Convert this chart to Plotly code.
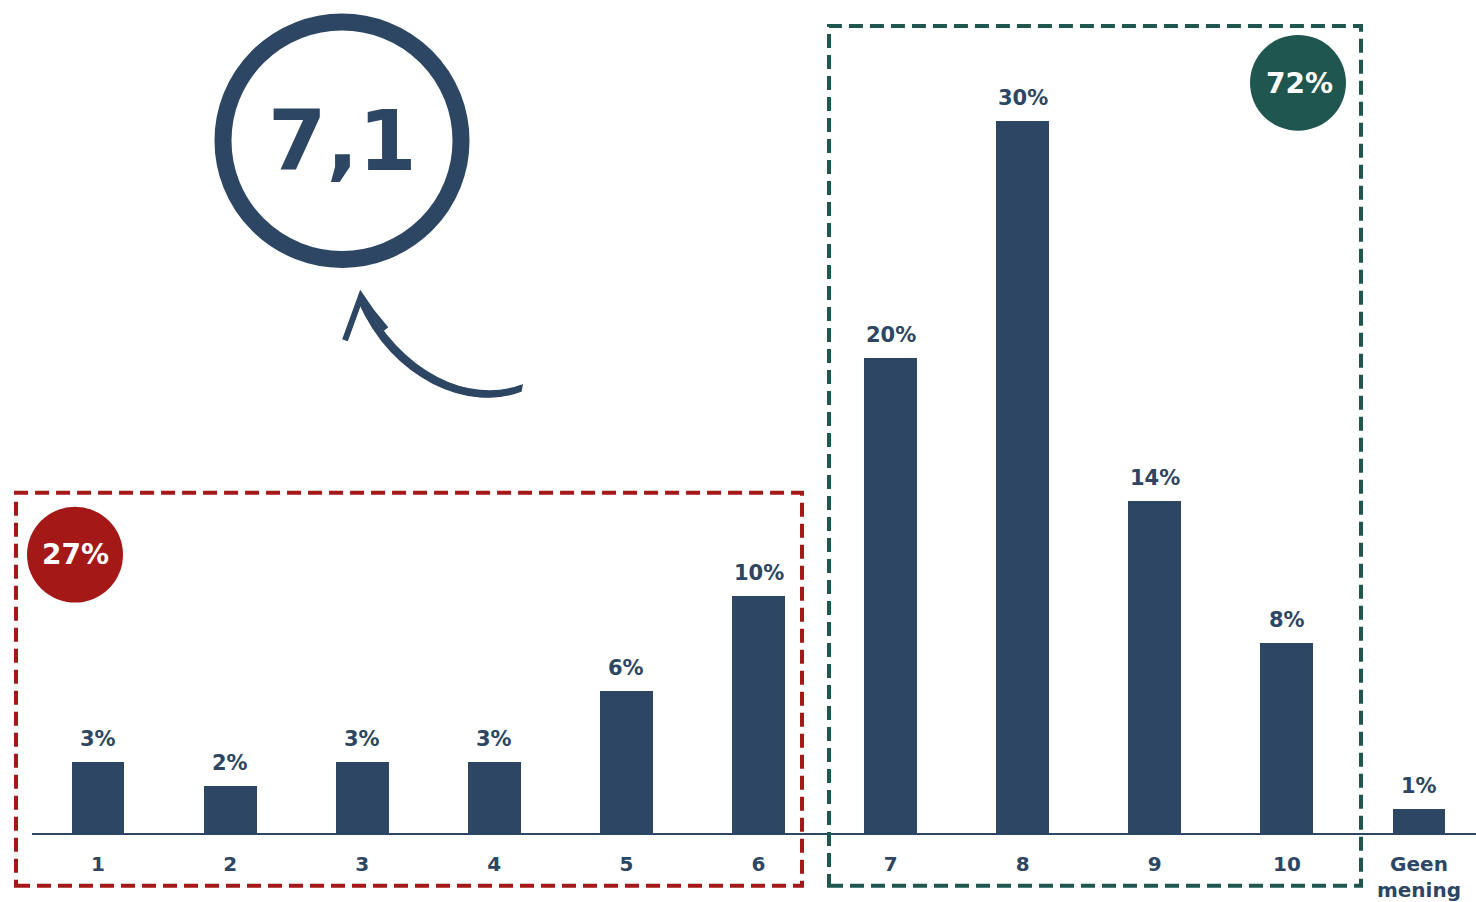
import plotly.graph_objects as go

# ---- data ----
categories = ["1", "2", "3", "4", "5", "6", "7", "8", "9", "10", "Geen<br>mening"]
values = [3, 2, 3, 3, 6, 10, 20, 30, 14, 8, 1]
low_share = "27%"
high_share = "72%"
average_score = "7,1"

NAVY = "#2C4663"
RED = "#A51818"
GREEN = "#1F5750"
FONT = "Verdana, DejaVu Sans, sans-serif"

W, H = 1476, 902
ML, MR, MT, MB = 32, 0, 0, 67
PW, PH = W - ML - MR, H - MT - MB
PX_PER_CAT = 132.1
PX_PER_PCT = 23.8
FIRST_CENTER = 98


def xp(px):
    return (px - ML) / PW


def yp(py):
    return (H - MB - py) / PH


xs = list(range(len(categories)))

fig = go.Figure()
fig.add_trace(go.Bar(
    x=xs, y=values, width=0.40,
    marker=dict(color=NAVY, line=dict(width=0)),
    hoverinfo="skip",
))

x_lo = (ML - FIRST_CENTER) / PX_PER_CAT
x_hi = (W - MR - FIRST_CENTER) / PX_PER_CAT
y_hi = PH / PX_PER_PCT

annotations = []
for x, v in zip(xs, values):
    annotations.append(dict(
        x=x, y=v, xref="x", yref="y", text=f"{v}%", showarrow=False,
        yanchor="bottom", yshift=9,
        font=dict(family=FONT, size=21, color=NAVY, weight="bold"),
    ))

# big score
annotations.append(dict(
    x=xp(342), y=yp(141), xref="paper", yref="paper", text=average_score,
    showarrow=False, xanchor="center", yanchor="middle",
    font=dict(family=FONT, size=84, color=NAVY, weight="bold"),
))
annotations.append(dict(
    x=xp(75), y=yp(556), xref="paper", yref="paper", text=low_share,
    showarrow=False, xanchor="center", yanchor="middle",
    font=dict(family=FONT, size=28, color="white", weight="bold"),
))
annotations.append(dict(
    x=xp(1299), y=yp(84), xref="paper", yref="paper", text=high_share,
    showarrow=False, xanchor="center", yanchor="middle",
    font=dict(family=FONT, size=28, color="white", weight="bold"),
))


def circle(cx, cy, r, **kw):
    return dict(type="circle", xref="paper", yref="paper",
                x0=xp(cx - r), x1=xp(cx + r), y0=yp(cy + r), y1=yp(cy - r), **kw)


def rect(x0, y0, x1, y1, color):
    return dict(type="rect", xref="paper", yref="paper",
                x0=xp(x0), x1=xp(x1), y0=yp(y1), y1=yp(y0),
                line=dict(color=color, width=4, dash="14px,7px"),
                fillcolor="rgba(0,0,0,0)", layer="above")


def path_px(pts_cmd):
    out = []
    for tok in pts_cmd:
        if isinstance(tok, str):
            out.append(tok)
        else:
            out.append(f"{xp(tok[0]):.5f},{yp(tok[1]):.5f}")
    return " ".join(out)


shapes = [
    circle(342, 141, 119, line=dict(color=NAVY, width=17), fillcolor="rgba(0,0,0,0)"),
    circle(75, 556, 48, line=dict(width=0), fillcolor=RED, layer="below"),
    circle(1298, 83, 48, line=dict(width=0), fillcolor=GREEN, layer="below"),
    rect(16, 494, 802, 888, RED),
    rect(829, 26, 1361, 888, GREEN),
]

# hand-drawn arrow: tapered filled body plus sketchy strokes
shapes.append(dict(
    type="path", xref="paper", yref="paper",
    path=path_px(["M", (522, 386), "C", (470, 406), (397, 374), (362, 300),
                  "L", (359, 302), "C", (392, 381), (470, 412), (521, 392), "Z"]),
    fillcolor=NAVY, line=dict(color=NAVY, width=1.5),
))
for dx, dy, w in [(2, -2, 2), (-2, 2, 2)]:
    shapes.append(dict(
        type="path", xref="paper", yref="paper",
        path=path_px(["M", (520 + dx, 390 + dy), "C", (470 + dx, 410 + dy),
                      (395 + dx, 375 + dy), (361 + dx, 300 + dy)]),
        line=dict(color=NAVY, width=w),
    ))
shapes.append(dict(
    type="path", xref="paper", yref="paper",
    path=path_px(["M", (345, 341), "L", (361, 297), "L", (372, 313), "L", (386, 330)]),
    line=dict(color=NAVY, width=6),
))

fig.update_layout(
    width=W, height=H,
    margin=dict(l=ML, r=MR, t=MT, b=MB, pad=0),
    paper_bgcolor="white", plot_bgcolor="white",
    showlegend=False,
    bargap=0,
    xaxis=dict(
        range=[x_lo, x_hi], tickvals=xs, ticktext=categories,
        showgrid=False, zeroline=False, showline=True,
        linecolor=NAVY, linewidth=2, ticks="", ticklabelstandoff=12,
        tickfont=dict(family=FONT, size=20, color=NAVY, weight="bold"),
        fixedrange=True,
    ),
    yaxis=dict(
        range=[0, y_hi], visible=False, showgrid=False, zeroline=False,
        fixedrange=True,
    ),
    annotations=annotations,
    shapes=shapes,
)

fig.write_html(
    "out.html",
    config={"displayModeBar": False},
    post_script="document.body.style.margin='0';document.body.style.overflow='hidden';",
)
